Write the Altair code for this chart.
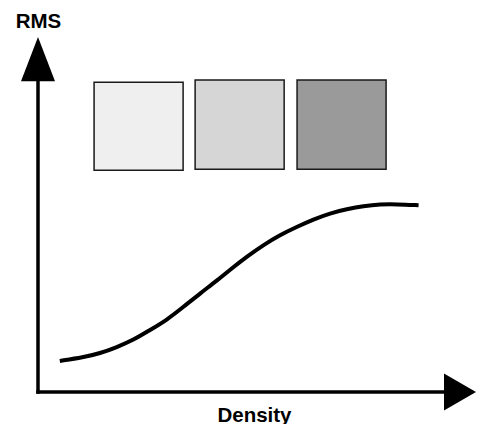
import altair as alt
import pandas as pd

# Sigmoid-like RMS vs Density curve (schematic units)
curve_density = [0.49, 1.02, 1.39, 1.77, 2.14, 2.52, 2.89, 3.27, 3.64, 4.02, 4.32,
                 4.69, 5.06, 5.44, 5.81, 6.19, 6.56, 6.94, 7.31, 7.69, 8.06, 8.55]
curve_rms = [0.70, 0.78, 0.87, 1.01, 1.17, 1.40, 1.62, 1.92, 2.22, 2.51, 2.76,
             3.05, 3.31, 3.54, 3.72, 3.89, 4.03, 4.12, 4.19, 4.23, 4.23, 4.21]

# Three grey sample squares
sq_x0 = [1.26, 3.53, 5.82]
sq_x1 = [3.26, 5.53, 7.82]
sq_y0 = [5.00, 5.02, 5.02]
sq_y1 = [6.98, 7.03, 7.03]
sq_fill = ["#efefef", "#d6d6d6", "#9a9a9a"]

# Axis extents (arrow tips)
x_max = 9.84
y_max = 8.0

xs = alt.Scale(domain=[0, x_max], nice=False, zero=True)
ys = alt.Scale(domain=[0, y_max], nice=False, zero=True)
FONT = "Liberation Sans"

curve_df = pd.DataFrame({"d": curve_density, "r": curve_rms})
sq_df = pd.DataFrame({"x0": sq_x0, "x1": sq_x1, "y0": sq_y0, "y1": sq_y1, "c": sq_fill})
yline_df = pd.DataFrame({"x": [0.0], "y0": [0.0], "y1": [y_max - 0.5]})
xline_df = pd.DataFrame({"y": [0.0], "x0": [0.0], "x1": [x_max - 0.4]})
uparrow_df = pd.DataFrame({"x": [0.0], "y": [y_max]})
rarrow_df = pd.DataFrame({"x": [x_max], "y": [0.0]})

xaxis = alt.Axis(domain=False, ticks=False, labels=False, grid=False,
                 title="Density", titleFont=FONT, titleFontSize=20.5, titleFontWeight="bold",
                 titleColor="#000", titleX=216, titleY=29, titleAlign="center",
                 titleBaseline="alphabetic")
yaxis = alt.Axis(domain=False, ticks=False, labels=False, grid=False,
                 title="RMS", titleFont=FONT, titleFontSize=20.5, titleFontWeight="bold",
                 titleColor="#000", titleAngle=0, titleX=0, titleY=-10, titleAlign="center",
                 titleBaseline="alphabetic")

base_axes = alt.Chart(curve_df).mark_line(opacity=0).encode(
    x=alt.X("d:Q", scale=xs, axis=xaxis),
    y=alt.Y("r:Q", scale=ys, axis=yaxis),
)

squares = alt.Chart(sq_df).mark_rect(stroke="#1a1a1a", strokeWidth=1.5).encode(
    x=alt.X("x0:Q", scale=xs), x2="x1:Q",
    y=alt.Y("y0:Q", scale=ys), y2="y1:Q",
    fill=alt.Fill("c:N", scale=None),
)

curve = alt.Chart(curve_df).mark_line(color="#000", strokeWidth=4, interpolate="basis").encode(
    x=alt.X("d:Q", scale=xs), y=alt.Y("r:Q", scale=ys),
)

yline = alt.Chart(yline_df).mark_rule(color="#000", strokeWidth=3.5, strokeCap="square").encode(
    x=alt.X("x:Q", scale=xs), y=alt.Y("y0:Q", scale=ys), y2="y1:Q",
)
xline = alt.Chart(xline_df).mark_rule(color="#000", strokeWidth=3.5, strokeCap="square").encode(
    y=alt.Y("y:Q", scale=ys), x=alt.X("x0:Q", scale=xs), x2="x1:Q",
)

uparrow = alt.Chart(uparrow_df).mark_point(
    shape="M0,0 L-1,2.6 L1,2.6 Z", filled=True, color="#000", opacity=1, size=1156
).encode(x=alt.X("x:Q", scale=xs), y=alt.Y("y:Q", scale=ys))

rarrow = alt.Chart(rarrow_df).mark_point(
    shape="M0,0 L-1.73,-1 L-1.73,1 Z", filled=True, color="#000", opacity=1, size=1369
).encode(x=alt.X("x:Q", scale=xs), y=alt.Y("y:Q", scale=ys))

chart = alt.layer(base_axes, squares, curve, yline, xline, uparrow, rarrow).properties(
    width=438, height=355,
    autosize=alt.AutoSizeParams(type="none"),
    padding={"left": 30, "top": 29, "right": 0, "bottom": 32},
    background="#ffffff",
).configure_view(stroke=None)

chart.save("out.html", embed_options={"renderer": "svg", "actions": False})
